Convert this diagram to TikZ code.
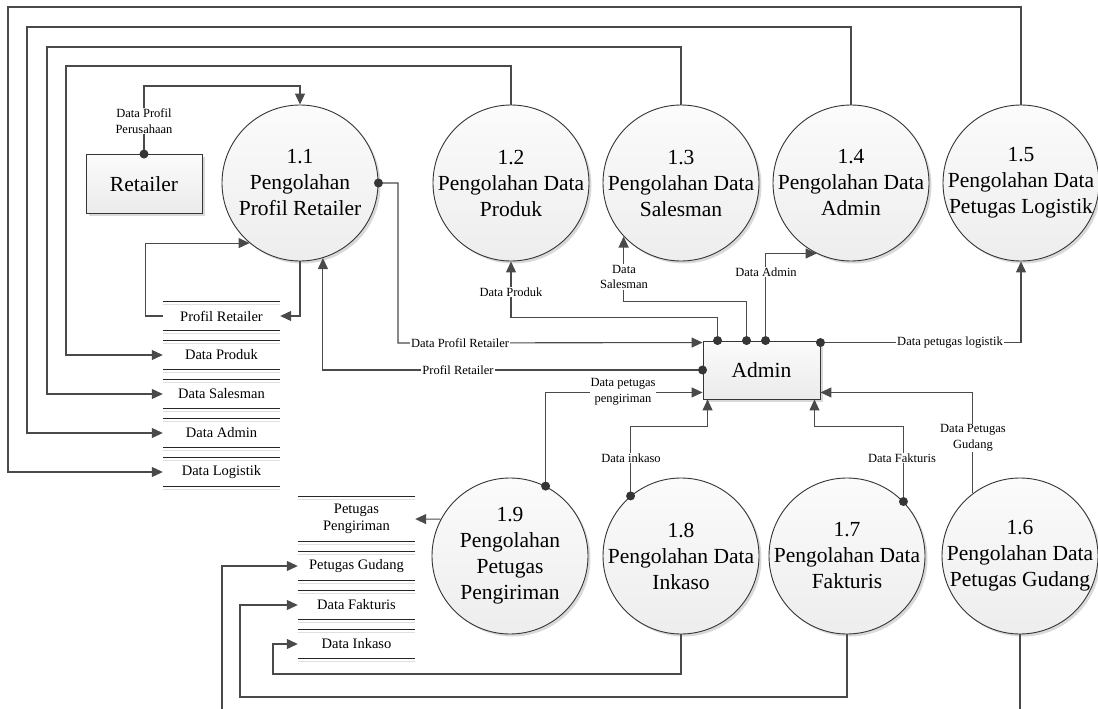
\documentclass[tikz,border=0pt]{standalone}
\usepackage{fontspec}
\setmainfont{Liberation Serif}
\usetikzlibrary{arrows.meta,shadows}
\definecolor{lc}{HTML}{4A4A4A}
\definecolor{bc}{HTML}{353535}
\begin{document}
\begin{tikzpicture}[x=1pt,y=-1pt,
  flow/.style={draw=lc, line width=1.1pt, -{Triangle[length=11pt,width=10pt]}},
  proc/.style={circle, draw=bc, line width=0.9pt, minimum size=156pt, inner sep=0pt,
    top color=gray!3, bottom color=gray!14,
    drop shadow={shadow xshift=2.5pt, shadow yshift=-2.5pt, fill=black, opacity=0.15}},
  ptext/.style={align=center, inner sep=0pt, font=\fontsize{21.5}{26}\selectfont},
  ent/.style={rectangle, draw=bc, line width=0.9pt, minimum width=117pt, minimum height=58pt,
    inner sep=0pt, top color=gray!3, bottom color=gray!16, font=\fontsize{21.5}{26}\selectfont,
    drop shadow={shadow xshift=2.5pt, shadow yshift=-2.5pt, fill=black, opacity=0.15}},
  store/.style={minimum width=117pt, minimum height=28pt, inner sep=0pt, align=center,
    font=\fontsize{14.5}{17}\selectfont},
  lbl/.style={fill=white, inner sep=1pt, align=center, font=\fontsize{12.5}{15.5}\selectfont},
  sline/.style={draw=black!85, line width=0.9pt},
  shline/.style={draw=gray!25, line width=0.9pt}
]
\path[use as bounding box, clip] (0,0) rectangle (1098,709);
\fill[white] (0,0) rectangle (1098,709);

% processes
\node[proc] (c11) at (300,183) {};
\node[proc] (c12) at (511,183) {};
\node[proc] (c13) at (681,183) {};
\node[proc] (c14) at (851,183) {};
\node[proc] (c15) at (1021,183) {};
\node[proc] (c19) at (510,556) {};
\node[proc] (c18) at (681,556) {};
\node[proc] (c17) at (847,556) {};
\node[proc] (c16) at (1020,556) {};
\node[ptext] (t11) at (c11) {1.1\\Pengolahan\\Profil Retailer};
\node[ptext] (t12) at (c12) {1.2\\Pengolahan Data\\Produk};
\node[ptext] (t13) at (c13) {1.3\\Pengolahan Data\\Salesman};
\node[ptext] (t14) at (c14) {1.4\\Pengolahan Data\\Admin};
\node[ptext] (t15) at (c15) {1.5\\Pengolahan Data\\Petugas Logistik};
\node[ptext] (t19) at (c19) {1.9\\Pengolahan\\Petugas\\Pengiriman};
\node[ptext] (t18) at (c18) {1.8\\Pengolahan Data\\Inkaso};
\node[ptext] (t17) at (c17) {1.7\\Pengolahan Data\\Fakturis};
\node[ptext] (t16) at (c16) {1.6\\Pengolahan Data\\Petugas Gudang};

% entities
\node[ent, minimum height=59pt, minimum width=116pt] (retailer) at (144,184) {Retailer};
\node[ent] (admin) at (761.5,370) {Admin};

% data stores
\node[store] (s1) at (221.5,316) {Profil Retailer};
\node[store] (s2) at (221.5,355) {Data Produk};
\node[store] (s3) at (221.5,394) {Data Salesman};
\node[store] (s4) at (221.5,433) {Data Admin};
\node[store] (s5) at (221.5,472) {Data Logistik};
\node[store, minimum height=44pt, font=\fontsize{14.5}{17}\selectfont] (s9) at (356.5,519) {Petugas\\Pengiriman};
\node[store] (s6) at (356.5,566) {Petugas Gudang};
\node[store] (s7) at (356.5,605) {Data Fakturis};
\node[store] (s8) at (356.5,644) {Data Inkaso};
\foreach \s in {s1,s2,s3,s4,s5,s9,s6,s7,s8}{
  \draw[shline] ([yshift=-3pt]\s.north west) -- ([yshift=-3pt]\s.north east);
  \draw[shline] ([yshift=-3pt]\s.south west) -- ([yshift=-3pt]\s.south east);
  \draw[sline] (\s.north west) -- (\s.north east);
  \draw[sline] (\s.south west) -- (\s.south east);
}

% connection points on admin
\coordinate (aDPRin) at ([yshift=-2pt]admin.north west);
\coordinate (aDPGin) at ([yshift=7pt]admin.south west);
\coordinate (aProd) at ([xshift=15pt]admin.north west);
\coordinate (aSales) at ([xshift=44pt]admin.north west);
\coordinate (aAdm) at ([xshift=63pt]admin.north west);
\coordinate (aLog) at ([yshift=-2pt]admin.north east);
\coordinate (aInk) at ([xshift=5pt]admin.south west);
\coordinate (aFak) at ([xshift=-6pt]admin.south east);
\coordinate (aGud) at ([yshift=7pt]admin.south east);

% flows
\draw[flow] (retailer.north) -- ++(0,-68) -| (c11.north);
\draw[flow] (c11.south) |- (s1.east);
\draw[flow] (s1.west) -- ++(-17,0) |- (c11.-130);
\draw[flow] (c12.north) |- (66,66) |- (s2.west);
\draw[flow] (c13.north) |- (47,47) |- (s3.west);
\draw[flow] (c14.north) |- (27,27) |- (s4.west);
\draw[flow] (c15.north) |- (8,7) |- (s5.west);
\draw[flow] (c11.east) -| (398,343) -- (aDPRin);
\draw[flow] (admin.west) -| (c11.-73);
\draw[flow] (c19.63) |- (aDPGin);
\draw[flow] (aProd) -- ++(0,-23) -| (c12.south);
\draw[flow] (aSales) -- ++(0,-39) -| (c13.-137);
\draw[flow] (aAdm) |- (c14.-116);
\draw[flow] (aLog) -| (c15.south);
\draw[flow] (c18.130) -- ++(0,-69) -| (aInk);
\draw[flow] (c17.44) -- ++(0,-75) -| (aFak);
\draw[flow] (c16.127) |- (aGud);
\draw[flow] (c19.152) -- (s9.east);
\draw[flow] (c18.south) |- (273,674) |- (s8.west);
\draw[flow] (c17.south) |- (240,697) |- (s7.west);
\draw[flow] (c16.south) |- (222,725) |- (s6.west);

% labels
\node[lbl] (lDPP) at (144,121) {Data Profil\\Perusahaan};
\node[lbl] (lDPR) at (460,343) {Data Profil Retailer};
\node[lbl] (lPR) at (458,370) {Profil Retailer};
\node[lbl] (lDPK) at (623,392) {Data petugas\\pengiriman};
\node[lbl] (lDP) at (511,292) {Data Produk};
\node[lbl] (lDS) at (624,277) {Data\\Salesman};
\node[lbl] (lDA) at (766,272) {Data Admin};
\node[lbl] (lDPL) at (950,343) {Data petugas logistik};
\node[lbl] (lDI) at (631,458) {Data inkaso};
\node[lbl] (lDF) at (902,458) {Data Fakturis};
\node[lbl] (lDPG) at (973,438) {Data Petugas\\Gudang};

% dots
\foreach \p in {retailer.north, c11.east, admin.west, aProd, aSales, aAdm, aLog, c19.63, c18.130, c17.44}
  \fill[bc] (\p) circle (4.5pt);
\end{tikzpicture}
\end{document}
